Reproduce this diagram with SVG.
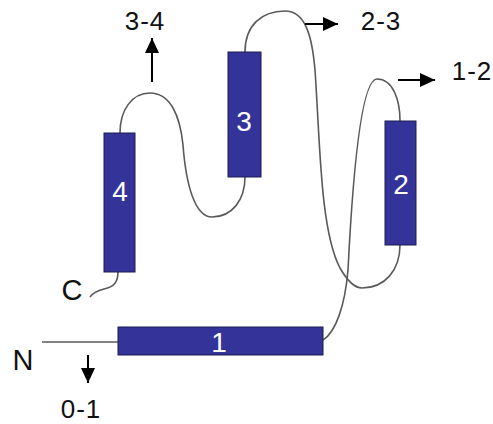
<svg xmlns="http://www.w3.org/2000/svg" width="493" height="424" viewBox="0 0 493 424">
<style>
.helix{fill:#333399;stroke:#1c1c50;stroke-width:1}
.hl{font-family:"Liberation Sans",Arial,sans-serif;font-size:28px;fill:#ffffff;text-anchor:middle}
.lbl{font-family:"Liberation Sans",Arial,sans-serif;font-size:26px;fill:#111;text-anchor:middle;letter-spacing:1px}
.term{font-family:"Liberation Sans",Arial,sans-serif;font-size:29px;fill:#111;text-anchor:middle}
.loop{fill:none;stroke:#5a5a5a;stroke-width:1.6}
.arr{stroke:#000;stroke-width:2;fill:none;marker-end:url(#ah)}
</style>
<defs>
<marker id="ah" viewBox="0 0 15 14" refX="15" refY="7" markerWidth="15" markerHeight="14" markerUnits="userSpaceOnUse" orient="auto">
<path d="M0,0 L15,7 L0,14 z" fill="#000"/>
</marker>
</defs>
<g id="connectors">
<path class="loop" d="M42,342 H118"/>
<path class="loop" d="M323,340 C336,332 345,305 348,270 C352,190 360,79 377,79 C393,79 400,100 400,121"/>
<path class="loop" d="M245,52 C245,25 262,11 285,11 C305,11 312,35 315,70 C320,140 320,230 340,268 C348,282 355,288 362,288 C385,288 400,270 400,245"/>
<path class="loop" d="M120,133 C120,110 132,93 150,93 C170,93 180,115 183,145 C186,185 195,217 212,217 C232,217 245,200 245,177"/>
<path class="loop" d="M118,272 C118,282 114,287 104,289 C96,291 92,294 90,297"/>
<path class="arr" d="M152,82 V38"/>
<path class="arr" d="M305,24 H338"/>
<path class="arr" d="M398,80 H435"/>
<path class="arr" d="M88,355 V383"/>
</g>
<g id="helix1"><rect class="helix" x="118" y="327" width="205" height="28"/><text class="hl" x="219" y="352">1</text></g>
<g id="helix2"><rect class="helix" x="385" y="121" width="31" height="124"/><text class="hl" x="401" y="194">2</text></g>
<g id="helix3"><rect class="helix" x="228" y="52" width="33" height="125"/><text class="hl" x="244" y="131">3</text></g>
<g id="helix4"><rect class="helix" x="104" y="133" width="31" height="139"/><text class="hl" x="120" y="201">4</text></g>
<g id="labels">
<text class="lbl" x="145" y="30">3-4</text>
<text class="lbl" x="381" y="30">2-3</text>
<text class="lbl" x="472" y="80">1-2</text>
<text class="lbl" x="81" y="418">0-1</text>
<text class="term" x="72" y="300">C</text>
<text class="term" x="23" y="370">N</text>
</g>
</svg>
